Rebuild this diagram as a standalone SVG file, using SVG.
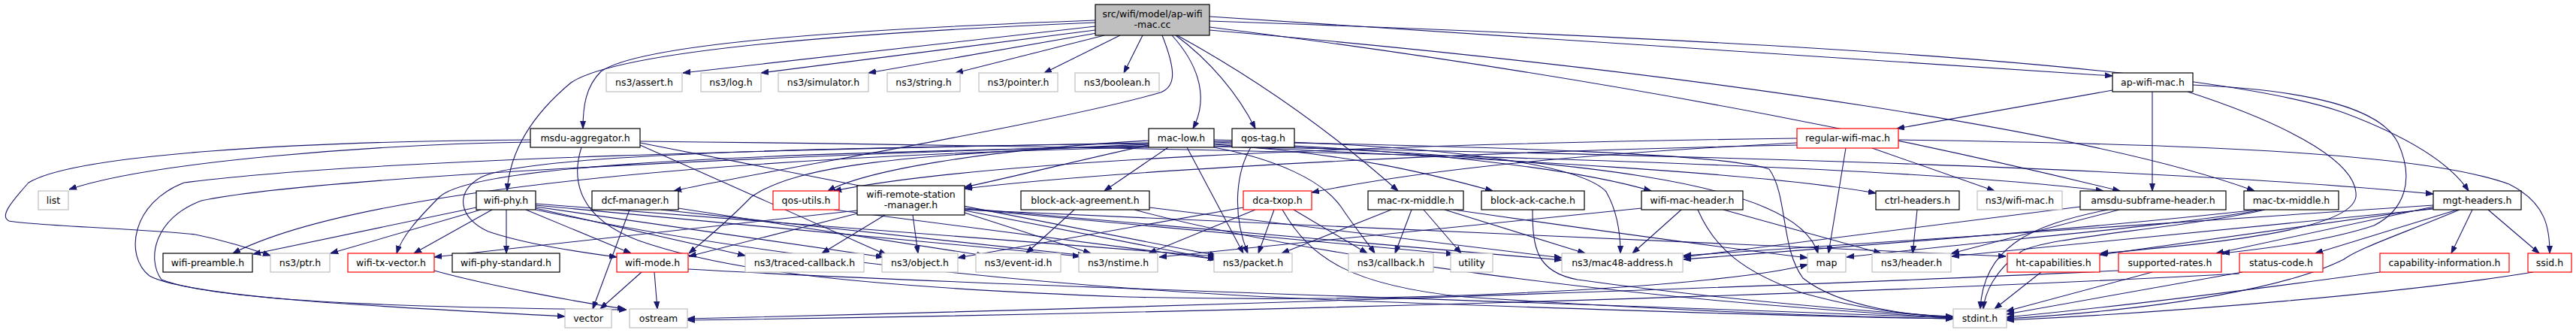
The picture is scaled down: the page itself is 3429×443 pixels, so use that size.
<svg xmlns="http://www.w3.org/2000/svg" width="3429" height="443" viewBox="0 0 3429 443">
<style>
.e{fill:none;stroke:#191970;stroke-width:1.1}
.node rect{fill:#fff;stroke-width:1.2}
.blk rect{stroke:#000}
.gry rect{stroke:#bfbfbf}
.red rect{stroke:#ff0000}
.root rect{fill:#bfbfbf;stroke:#000}
text{font-family:"DejaVu Sans","Liberation Sans",sans-serif;font-size:12.5px;fill:#000;text-anchor:middle}
</style>
<defs>
<marker id="a" markerWidth="10" markerHeight="8" refX="10" refY="4" orient="auto" markerUnits="userSpaceOnUse"><path d="M0,0.5 L10,4 L0,7.5 z" fill="#191970" stroke="#191970"/></marker>
</defs>
<rect width="3429" height="443" fill="#fff"/>
<g id="edges">
<path class="e" marker-end="url(#a)" d="M1458,35 L909,97"/>
<path class="e" marker-end="url(#a)" d="M1458,40 L1013,97"/>
<path class="e" marker-end="url(#a)" d="M1460,44 L1156,97"/>
<path class="e" marker-end="url(#a)" d="M1470,47 L1272,97"/>
<path class="e" marker-end="url(#a)" d="M1491,47 L1390,97"/>
<path class="e" marker-end="url(#a)" d="M1521,47 L1496,97"/>
<path class="e" marker-end="url(#a)" d="M1560,47 C1590,80 1612,125 1588,171"/>
<path class="e" marker-end="url(#a)" d="M1565,47 C1610,80 1648,125 1671,171"/>
<path class="e" marker-end="url(#a)" d="M1547,47 C1566,95 1565,115 1545,123 C1400,165 1000,230 897,254"/>
<path class="e" marker-end="url(#a)" d="M1458,27 C1100,40 850,60 800,95 C780,115 776,140 776,171"/>
<path class="e" marker-end="url(#a)" d="M1458,30 C1100,45 820,70 760,110 C700,160 678,210 675,254"/>
<path class="e" marker-end="url(#a)" d="M1567,47 C1700,120 1800,200 1861,254"/>
<path class="e" marker-end="url(#a)" d="M1610,40 C2300,100 2800,180 3001,254"/>
<path class="e" marker-end="url(#a)" d="M1610,36 C2200,110 2600,200 2822,254"/>
<path class="e" marker-end="url(#a)" d="M1610,28 C2400,55 2950,90 3120,150 C3200,180 3260,215 3286,254"/>
<path class="e" marker-end="url(#a)" d="M1610,22 L2812,101"/>
<path class="e" marker-end="url(#a)" d="M2812,120 L2525,171"/>
<path class="e" marker-end="url(#a)" d="M2865,122 L2865,254"/>
<path class="e" marker-end="url(#a)" d="M2919,113 C3080,120 3170,145 3192,190 C3215,240 3200,280 3160,300 C3100,320 3020,330 2958,337"/>
<path class="e" marker-end="url(#a)" d="M2912,122 C3060,170 3140,220 3136,262 C3130,300 3000,320 2796,337"/>
<path class="e" marker-end="url(#a)" d="M2457,197 L2434,337"/>
<path class="e" marker-end="url(#a)" d="M2492,197 L2655,254"/>
<path class="e" marker-end="url(#a)" d="M2527,186 C2950,192 3230,205 3340,245 C3390,270 3394,305 3394,337"/>
<path class="e" marker-end="url(#a)" d="M2392,190 C2100,205 1900,225 1746,256"/>
<path class="e" marker-end="url(#a)" d="M2392,184 C1800,192 1300,215 1110,254"/>
<path class="e" marker-end="url(#a)" d="M2392,193 C2000,200 1500,225 1284,251"/>
<path class="e" marker-end="url(#a)" d="M1555,196 L1470,254"/>
<path class="e" marker-end="url(#a)" d="M1580,196 L1655,337"/>
<path class="e" marker-end="url(#a)" d="M1665,196 C1645,230 1640,285 1661,337"/>
<path class="e" marker-end="url(#a)" d="M1529,193 C1450,210 1350,235 1284,249"/>
<path class="e" marker-end="url(#a)" d="M1529,187 C1300,200 1150,228 1102,254"/>
<path class="e" marker-end="url(#a)" d="M1616,192 C1800,205 1900,230 1987,254"/>
<path class="e" marker-end="url(#a)" d="M1616,189 C1900,200 2100,225 2198,254"/>
<path class="e" marker-end="url(#a)" d="M1616,186 C1900,192 2100,215 2138,255 C2155,285 2157,315 2157,337"/>
<path class="e" marker-end="url(#a)" d="M1616,194 C2000,212 2350,230 2497,257"/>
<path class="e" marker-end="url(#a)" d="M1616,195 C2300,207 2900,225 3239,258"/>
<path class="e" marker-end="url(#a)" d="M1616,196 C1700,212 1760,240 1785,275 C1805,305 1820,322 1830,337"/>
<path class="e" marker-end="url(#a)" d="M1616,191 C2100,210 2390,240 2420,337"/>
<path class="e" marker-end="url(#a)" d="M1616,188 C2000,195 2300,205 2355,225 C2380,260 2370,330 2400,370 C2450,410 2550,420 2600,422"/>
<path class="e" marker-end="url(#a)" d="M1529,190 C1100,198 500,210 245,243 C175,270 165,340 199,367 C260,400 600,412 752,421"/>
<path class="e" marker-end="url(#a)" d="M1529,194 C1100,203 420,235 268,267 C205,290 195,345 215,372 C300,405 620,410 834,412"/>
<path class="e" marker-end="url(#a)" d="M1529,196 C1100,205 500,240 310,337"/>
<path class="e" marker-end="url(#a)" d="M1529,195 C900,205 625,225 585,262 C555,292 535,315 528,337"/>
<path class="e" marker-end="url(#a)" d="M1529,192 C1200,205 1060,220 1000,262 C965,298 935,322 917,337"/>
<path class="e" marker-end="url(#a)" d="M1529,191 C1100,196 700,205 640,236 C605,255 610,290 650,308 C700,325 770,335 821,342"/>
<path class="e" marker-end="url(#a)" d="M674,279 L674,337"/>
<path class="e" marker-end="url(#a)" d="M634,276 L337,338"/>
<path class="e" marker-end="url(#a)" d="M640,279 L440,337"/>
<path class="e" marker-end="url(#a)" d="M655,279 L551,337"/>
<path class="e" marker-end="url(#a)" d="M700,279 L840,337"/>
<path class="e" marker-end="url(#a)" d="M713,277 L992,340"/>
<path class="e" marker-end="url(#a)" d="M713,275 L1176,342"/>
<path class="e" marker-end="url(#a)" d="M713,273 L1438,341"/>
<path class="e" marker-end="url(#a)" d="M713,271 L1618,341"/>
<path class="e" marker-end="url(#a)" d="M713,279 C1000,340 1400,385 1800,400 C2200,415 2450,422 2600,424"/>
<path class="e" marker-end="url(#a)" d="M838,279 L789,411"/>
<path class="e" marker-end="url(#a)" d="M903,277 L1310,340"/>
<path class="e" marker-end="url(#a)" d="M880,279 L1445,340"/>
<path class="e" marker-end="url(#a)" d="M1110,279 L1620,345"/>
<path class="e" marker-end="url(#a)" d="M1178,286 L1094,337"/>
<path class="e" marker-end="url(#a)" d="M1215,286 L1222,337"/>
<path class="e" marker-end="url(#a)" d="M1141,284 L917,341"/>
<path class="e" marker-end="url(#a)" d="M1284,283 L1452,337"/>
<path class="e" marker-end="url(#a)" d="M1284,280 L1618,345"/>
<path class="e" marker-end="url(#a)" d="M1284,277 L2079,346"/>
<path class="e" marker-end="url(#a)" d="M1284,278 L1935,338"/>
<path class="e" marker-end="url(#a)" d="M1284,279 L2670,341"/>
<path class="e" marker-end="url(#a)" d="M1141,280 L578,342"/>
<path class="e" marker-end="url(#a)" d="M1430,279 L1366,337"/>
<path class="e" marker-end="url(#a)" d="M1530,276 L2079,343"/>
<path class="e" marker-end="url(#a)" d="M1510,279 C1700,330 2100,395 2600,423"/>
<path class="e" marker-end="url(#a)" d="M1696,279 L1675,337"/>
<path class="e" marker-end="url(#a)" d="M1671,279 L1529,337"/>
<path class="e" marker-end="url(#a)" d="M1655,276 L1275,343"/>
<path class="e" marker-end="url(#a)" d="M1722,279 L1820,337"/>
<path class="e" marker-end="url(#a)" d="M1707,279 C1745,345 1800,380 1950,395 C2250,415 2480,422 2600,424"/>
<path class="e" marker-end="url(#a)" d="M1852,279 L1706,337"/>
<path class="e" marker-end="url(#a)" d="M1879,279 L1857,337"/>
<path class="e" marker-end="url(#a)" d="M1895,279 L1945,337"/>
<path class="e" marker-end="url(#a)" d="M1923,279 L2110,337"/>
<path class="e" marker-end="url(#a)" d="M1935,279 C2150,310 2300,330 2406,343"/>
<path class="e" marker-end="url(#a)" d="M2040,279 C2040,330 2045,362 2100,372 C2300,400 2500,415 2600,422"/>
<path class="e" marker-end="url(#a)" d="M2238,279 L2173,337"/>
<path class="e" marker-end="url(#a)" d="M2294,279 L2504,337"/>
<path class="e" marker-end="url(#a)" d="M2260,279 C2282,330 2320,362 2400,390 C2480,412 2550,420 2600,421"/>
<path class="e" marker-end="url(#a)" d="M2185,277 L1543,342"/>
<path class="e" marker-end="url(#a)" d="M2552,279 L2546,337"/>
<path class="e" marker-end="url(#a)" d="M2821,279 L2598,337"/>
<path class="e" marker-end="url(#a)" d="M2769,275 L2241,342"/>
<path class="e" marker-end="url(#a)" d="M2806,279 C2700,300 2640,330 2636,411"/>
<path class="e" marker-end="url(#a)" d="M3011,279 C2900,300 2700,315 2458,342"/>
<path class="e" marker-end="url(#a)" d="M3005,279 C2800,302 2500,325 2241,345"/>
<path class="e" marker-end="url(#a)" d="M3015,279 C2900,305 2720,315 2690,335 C2655,360 2642,390 2640,411"/>
<path class="e" marker-end="url(#a)" d="M3271,279 L3082,337"/>
<path class="e" marker-end="url(#a)" d="M3291,279 L3263,337"/>
<path class="e" marker-end="url(#a)" d="M3312,279 L3380,337"/>
<path class="e" marker-end="url(#a)" d="M3239,275 L2950,337"/>
<path class="e" marker-end="url(#a)" d="M3239,277 L2795,339"/>
<path class="e" marker-end="url(#a)" d="M3239,278 L2598,341"/>
<path class="e" marker-end="url(#a)" d="M3239,273 L2241,340"/>
<path class="e" marker-end="url(#a)" d="M3274,279 C3200,310 3140,330 3120,345 C3050,380 2900,410 2671,424"/>
<path class="e" marker-end="url(#a)" d="M854,362 L799,411"/>
<path class="e" marker-end="url(#a)" d="M871,362 L875,411"/>
<path class="e" marker-end="url(#a)" d="M916,358 C1300,380 2000,400 2600,423"/>
<path class="e" marker-end="url(#a)" d="M578,360 C650,380 770,402 832,411"/>
<path class="e" marker-end="url(#a)" d="M2717,362 L2655,411"/>
<path class="e" marker-end="url(#a)" d="M2865,362 L2671,414"/>
<path class="e" marker-end="url(#a)" d="M2820,360 C2300,385 1500,410 915,424"/>
<path class="e" marker-end="url(#a)" d="M2985,362 L2671,418"/>
<path class="e" marker-end="url(#a)" d="M2981,364 C2500,390 1700,415 915,426"/>
<path class="e" marker-end="url(#a)" d="M3168,362 C3000,385 2800,410 2671,422"/>
<path class="e" marker-end="url(#a)" d="M3372,362 C3200,390 2900,415 2671,426"/>
<path class="e" marker-end="url(#a)" d="M706,189 C500,192 200,215 92,252"/>
<path class="e" marker-end="url(#a)" d="M706,186 C400,188 100,205 38,243 C12,272 0,288 12,294 C40,300 200,305 260,312 C300,320 330,330 360,340"/>
<path class="e" marker-end="url(#a)" d="M852,190 L1620,340"/>
<path class="e" marker-end="url(#a)" d="M852,193 L1180,339"/>
<path class="e" marker-end="url(#a)" d="M852,188 C1600,196 2500,215 2800,254"/>
<path class="e" marker-end="url(#a)" d="M774,196 C760,240 770,290 850,320 C950,355 1100,380 1500,395 C1900,405 2300,380 2406,352"/>
</g>
<g id="node-root" class="node root"><rect x="1458" y="6" width="152" height="41"/><text x="1534" y="22.5">src/wifi/model/ap-wifi</text><text x="1534" y="37">-mac.cc</text></g>
<g id="node-assert" class="node gry"><rect x="807" y="97" width="101" height="25"/><text x="857.5" y="113.5">ns3/assert.h</text></g>
<g id="node-log" class="node gry"><rect x="933" y="97" width="80" height="25"/><text x="973" y="113.5">ns3/log.h</text></g>
<g id="node-simulator" class="node gry"><rect x="1036" y="97" width="120" height="25"/><text x="1096" y="113.5">ns3/simulator.h</text></g>
<g id="node-string" class="node gry"><rect x="1181" y="97" width="97" height="25"/><text x="1229.5" y="113.5">ns3/string.h</text></g>
<g id="node-pointer" class="node gry"><rect x="1303" y="97" width="105" height="25"/><text x="1355.5" y="113.5">ns3/pointer.h</text></g>
<g id="node-boolean" class="node gry"><rect x="1431" y="97" width="112" height="25"/><text x="1487" y="113.5">ns3/boolean.h</text></g>
<g id="node-ap-wifi-mac" class="node blk"><rect x="2812" y="97" width="107" height="25"/><text x="2865.5" y="113.5">ap-wifi-mac.h</text></g>
<g id="node-msdu-aggregator" class="node blk"><rect x="706" y="171" width="146" height="25"/><text x="779" y="187.5">msdu-aggregator.h</text></g>
<g id="node-mac-low" class="node blk"><rect x="1529" y="171" width="87" height="25"/><text x="1572.5" y="187.5">mac-low.h</text></g>
<g id="node-qos-tag" class="node blk"><rect x="1640" y="171" width="83" height="25"/><text x="1681.5" y="187.5">qos-tag.h</text></g>
<g id="node-regular-wifi-mac" class="node red"><rect x="2392" y="171" width="135" height="26"/><text x="2459.5" y="188">regular-wifi-mac.h</text></g>
<g id="node-list" class="node gry"><rect x="51" y="254" width="40" height="25"/><text x="71" y="270.5">list</text></g>
<g id="node-wifi-phy" class="node blk"><rect x="634" y="254" width="79" height="25"/><text x="673.5" y="270.5">wifi-phy.h</text></g>
<g id="node-dcf-manager" class="node blk"><rect x="788" y="254" width="115" height="25"/><text x="845.5" y="270.5">dcf-manager.h</text></g>
<g id="node-qos-utils" class="node red"><rect x="1029" y="254" width="88" height="25"/><text x="1073" y="270.5">qos-utils.h</text></g>
<g id="node-wifi-remote-station-manager" class="node blk"><rect x="1141" y="247" width="143" height="39"/><text x="1212.5" y="263">wifi-remote-station</text><text x="1212.5" y="277">-manager.h</text></g>
<g id="node-block-ack-agreement" class="node blk"><rect x="1359" y="254" width="171" height="25"/><text x="1444.5" y="270.5">block-ack-agreement.h</text></g>
<g id="node-dca-txop" class="node red"><rect x="1655" y="254" width="91" height="25"/><text x="1700.5" y="270.5">dca-txop.h</text></g>
<g id="node-mac-rx-middle" class="node blk"><rect x="1821" y="254" width="127" height="25"/><text x="1884.5" y="270.5">mac-rx-middle.h</text></g>
<g id="node-block-ack-cache" class="node blk"><rect x="1972" y="254" width="137" height="25"/><text x="2040.5" y="270.5">block-ack-cache.h</text></g>
<g id="node-wifi-mac-header" class="node blk"><rect x="2185" y="254" width="135" height="25"/><text x="2252.5" y="270.5">wifi-mac-header.h</text></g>
<g id="node-ctrl-headers" class="node blk"><rect x="2497" y="254" width="111" height="25"/><text x="2552.5" y="270.5">ctrl-headers.h</text></g>
<g id="node-wifi-mac" class="node gry"><rect x="2632" y="254" width="113" height="25"/><text x="2688.5" y="270.5">ns3/wifi-mac.h</text></g>
<g id="node-amsdu-subframe-header" class="node blk"><rect x="2769" y="254" width="194" height="25"/><text x="2866" y="270.5">amsdu-subframe-header.h</text></g>
<g id="node-mac-tx-middle" class="node blk"><rect x="2987" y="254" width="126" height="25"/><text x="3050" y="270.5">mac-tx-middle.h</text></g>
<g id="node-mgt-headers" class="node blk"><rect x="3239" y="254" width="117" height="25"/><text x="3297.5" y="270.5">mgt-headers.h</text></g>
<g id="node-wifi-preamble" class="node blk"><rect x="217" y="337" width="119" height="25"/><text x="276.5" y="353.5">wifi-preamble.h</text></g>
<g id="node-ptr" class="node gry"><rect x="360" y="337" width="79" height="25"/><text x="399.5" y="353.5">ns3/ptr.h</text></g>
<g id="node-wifi-tx-vector" class="node red"><rect x="463" y="337" width="115" height="25"/><text x="520.5" y="353.5">wifi-tx-vector.h</text></g>
<g id="node-wifi-phy-standard" class="node blk"><rect x="602" y="337" width="143" height="25"/><text x="673.5" y="353.5">wifi-phy-standard.h</text></g>
<g id="node-wifi-mode" class="node red"><rect x="821" y="337" width="95" height="25"/><text x="868.5" y="353.5">wifi-mode.h</text></g>
<g id="node-traced-callback" class="node gry"><rect x="992" y="337" width="158" height="25"/><text x="1071" y="353.5">ns3/traced-callback.h</text></g>
<g id="node-object" class="node gry"><rect x="1174" y="337" width="101" height="25"/><text x="1224.5" y="353.5">ns3/object.h</text></g>
<g id="node-event-id" class="node gry"><rect x="1299" y="337" width="113" height="25"/><text x="1355.5" y="353.5">ns3/event-id.h</text></g>
<g id="node-nstime" class="node gry"><rect x="1436" y="337" width="105" height="25"/><text x="1488.5" y="353.5">ns3/nstime.h</text></g>
<g id="node-packet" class="node gry"><rect x="1616" y="337" width="104" height="25"/><text x="1668" y="353.5">ns3/packet.h</text></g>
<g id="node-callback" class="node gry"><rect x="1795" y="337" width="113" height="25"/><text x="1851.5" y="353.5">ns3/callback.h</text></g>
<g id="node-utility" class="node gry"><rect x="1931" y="337" width="56" height="25"/><text x="1959" y="353.5">utility</text></g>
<g id="node-mac48-address" class="node gry"><rect x="2079" y="337" width="161" height="25"/><text x="2159.5" y="353.5">ns3/mac48-address.h</text></g>
<g id="node-map" class="node gry"><rect x="2406" y="337" width="51" height="25"/><text x="2431.5" y="353.5">map</text></g>
<g id="node-header" class="node gry"><rect x="2492" y="337" width="105" height="25"/><text x="2544.5" y="353.5">ns3/header.h</text></g>
<g id="node-ht-capabilities" class="node red"><rect x="2672" y="337" width="123" height="25"/><text x="2733.5" y="353.5">ht-capabilities.h</text></g>
<g id="node-supported-rates" class="node red"><rect x="2820" y="337" width="137" height="25"/><text x="2888.5" y="353.5">supported-rates.h</text></g>
<g id="node-status-code" class="node red"><rect x="2981" y="337" width="111" height="25"/><text x="3036.5" y="353.5">status-code.h</text></g>
<g id="node-capability-information" class="node red"><rect x="3168" y="337" width="172" height="25"/><text x="3254" y="353.5">capability-information.h</text></g>
<g id="node-ssid" class="node red"><rect x="3365" y="337" width="58" height="25"/><text x="3394" y="353.5">ssid.h</text></g>
<g id="node-vector" class="node gry"><rect x="752" y="411" width="62" height="25"/><text x="783" y="427.5">vector</text></g>
<g id="node-ostream" class="node gry"><rect x="838" y="411" width="77" height="25"/><text x="876.5" y="427.5">ostream</text></g>
<g id="node-stdint" class="node gry"><rect x="2600" y="411" width="71" height="25"/><text x="2635.5" y="427.5">stdint.h</text></g>
</svg>
